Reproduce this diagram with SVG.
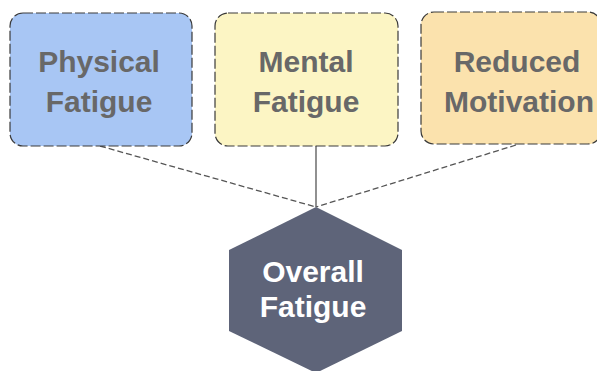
<svg xmlns="http://www.w3.org/2000/svg" width="597" height="371" viewBox="0 0 597 371">
<style>
.box{stroke:#3a3a3a;stroke-width:1.2;stroke-dasharray:10 3}
.lbl{font-family:"Liberation Sans",Arial,sans-serif;font-weight:bold;font-size:30px;text-anchor:middle;fill:#686868}
.hl{font-family:"Liberation Sans",Arial,sans-serif;font-weight:bold;font-size:30px;text-anchor:middle;fill:#ffffff}
.conn{stroke:#555;stroke-width:1.3;fill:none}
</style>
<rect width="597" height="371" fill="#ffffff"/>
<g id="connectors">
<path class="conn" d="M100,146 L316,207" stroke-dasharray="6 3"/>
<path class="conn" d="M316,146 L316,207"/>
<path class="conn" d="M516,145 L316,207" stroke-dasharray="6 3"/>
</g>
<g id="physical">
<rect class="box" x="10" y="13" width="182" height="133" rx="13" fill="#a8c6f4"/>
<text class="lbl" x="99" y="72">Physical</text>
<text class="lbl" x="99" y="112">Fatigue</text>
</g>
<g id="mental">
<rect class="box" x="215" y="13" width="183" height="133" rx="13" fill="#fcf5c4"/>
<text class="lbl" x="306" y="72">Mental</text>
<text class="lbl" x="306" y="112">Fatigue</text>
</g>
<g id="reduced">
<rect class="box" x="421" y="12" width="180" height="132" rx="13" fill="#fbe2ad"/>
<text class="lbl" x="517" y="72">Reduced</text>
<text class="lbl" x="519" y="112">Motivation</text>
</g>
<g id="overall">
<polygon points="316,207 402,250 402,331 316,373 229,331 229,250" fill="#5e6479"/>
<text class="hl" x="313" y="282">Overall</text>
<text class="hl" x="313" y="317">Fatigue</text>
</g>
</svg>
